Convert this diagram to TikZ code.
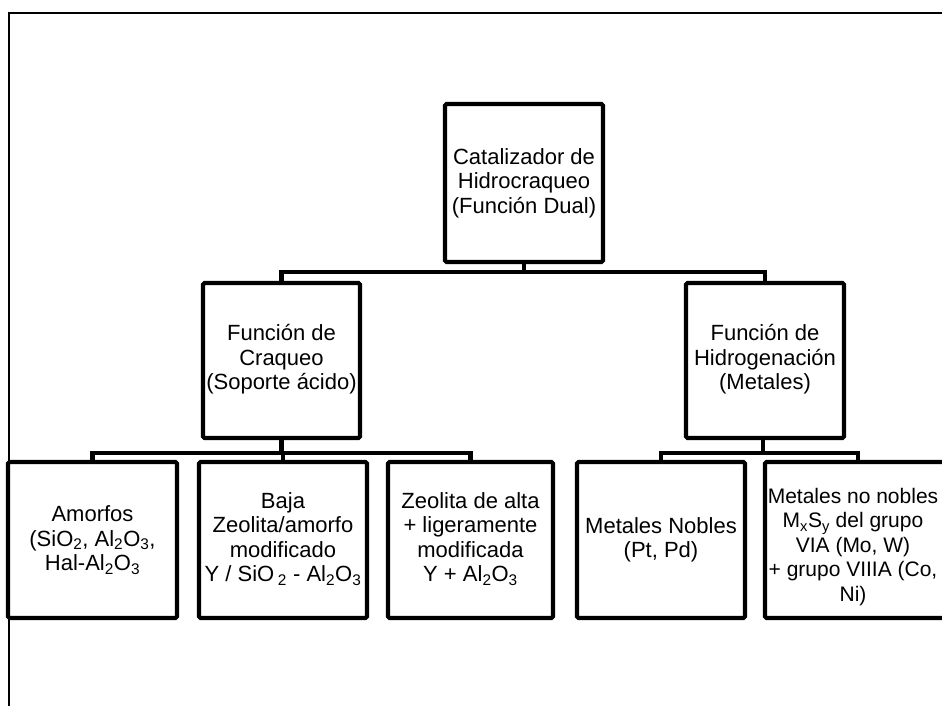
\documentclass[tikz,border=0pt]{standalone}
\usepackage{fontspec}
\setmainfont{Liberation Sans}
\begin{document}
\begin{tikzpicture}[x=1pt,y=-1pt,
  boxnode/.style={draw=black, line width=4.2pt, rounded corners=1.5pt, fill=white,
    align=center, inner sep=0pt, font=\fontsize{22}{24.5}\selectfont},
  conn/.style={draw=black, line width=4.2pt, line join=miter},
  framel/.style={draw=black, line width=1.8pt}]
\useasboundingbox (0,0) rectangle (942,706);
\clip (0,0) rectangle (942,706);
% frame
\draw[framel] (9,706) -- (9,13) -- (945,13);
% root
\node[boxnode, minimum width=158pt, minimum height=158pt] (root) at (524,183) {Catalizador de\\Hidrocraqueo\\(Función Dual)};
% middle level
\node[boxnode, minimum width=157pt, minimum height=155pt] (mL) at (281.5,360.5) {\raisebox{-3pt}{\begin{tabular}{@{}c@{}}Función de\\Craqueo\\(Soporte ácido)\end{tabular}}};
\node[boxnode, minimum width=158pt, minimum height=155pt] (mR) at (765,360.5) {\raisebox{-3pt}{\begin{tabular}{@{}c@{}}Función de\\Hidrogenación\\(Metales)\end{tabular}}};
% bottom level
\node[boxnode, minimum width=169pt, minimum height=156pt] (b1) at (92.5,540) {Amorfos\\(SiO\textsubscript{2}, Al\textsubscript{2}O\textsubscript{3},\\Hal-Al\textsubscript{2}O\textsubscript{3}};
\node[boxnode, minimum width=168pt, minimum height=156pt] (b2) at (283,540) {\raisebox{-5pt}{\begin{tabular}{@{}c@{}}Baja\\Zeolita/amorfo\\modificado\\Y / SiO\,\textsubscript{2} - Al\textsubscript{2}O\textsubscript{3}\end{tabular}}};
\node[boxnode, minimum width=165pt, minimum height=156pt] (b3) at (470.5,540) {\raisebox{-5pt}{\begin{tabular}{@{}c@{}}Zeolita de alta\\+ ligeramente\\modificada\\Y + Al\textsubscript{2}O\textsubscript{3}\end{tabular}}};
\node[boxnode, minimum width=168pt, minimum height=156pt] (b4) at (661,540) {Metales Nobles\\(Pt, Pd)};
\node[boxnode, minimum width=186pt, minimum height=156pt] (b5) at (858,540) {};
\node[align=center, inner sep=0pt, font=\fontsize{21}{24.5}\selectfont] (b5t) at (853,547) {Metales no nobles\\M\textsubscript{x}S\textsubscript{y} del grupo\\VIA (Mo, W)\\+ grupo VIIIA (Co,\\Ni)};
% connectors
\coordinate (j1) at (524,272);
\coordinate (j2) at (281.5,453);
\coordinate (j3) at (763,453);
\draw[conn] (root.south) -- (j1);
\draw[conn] (mL.north) -- (mL.north |- j1) -- (mR.north |- j1) -- (mR.north);
\draw[conn] (mL.south) -- (j2);
\draw[conn] (b1.north) -- (b1.north |- j2) -- (b3.north |- j2) -- (b3.north);
\draw[conn] (b2.north) -- (b2.north |- j2);
\draw[conn] (mR.south -| j3) -- (j3);
\draw[conn] (b4.north) -- (b4.north |- j3) -- (b5.north |- j3) -- (b5.north);
\end{tikzpicture}
\end{document}
